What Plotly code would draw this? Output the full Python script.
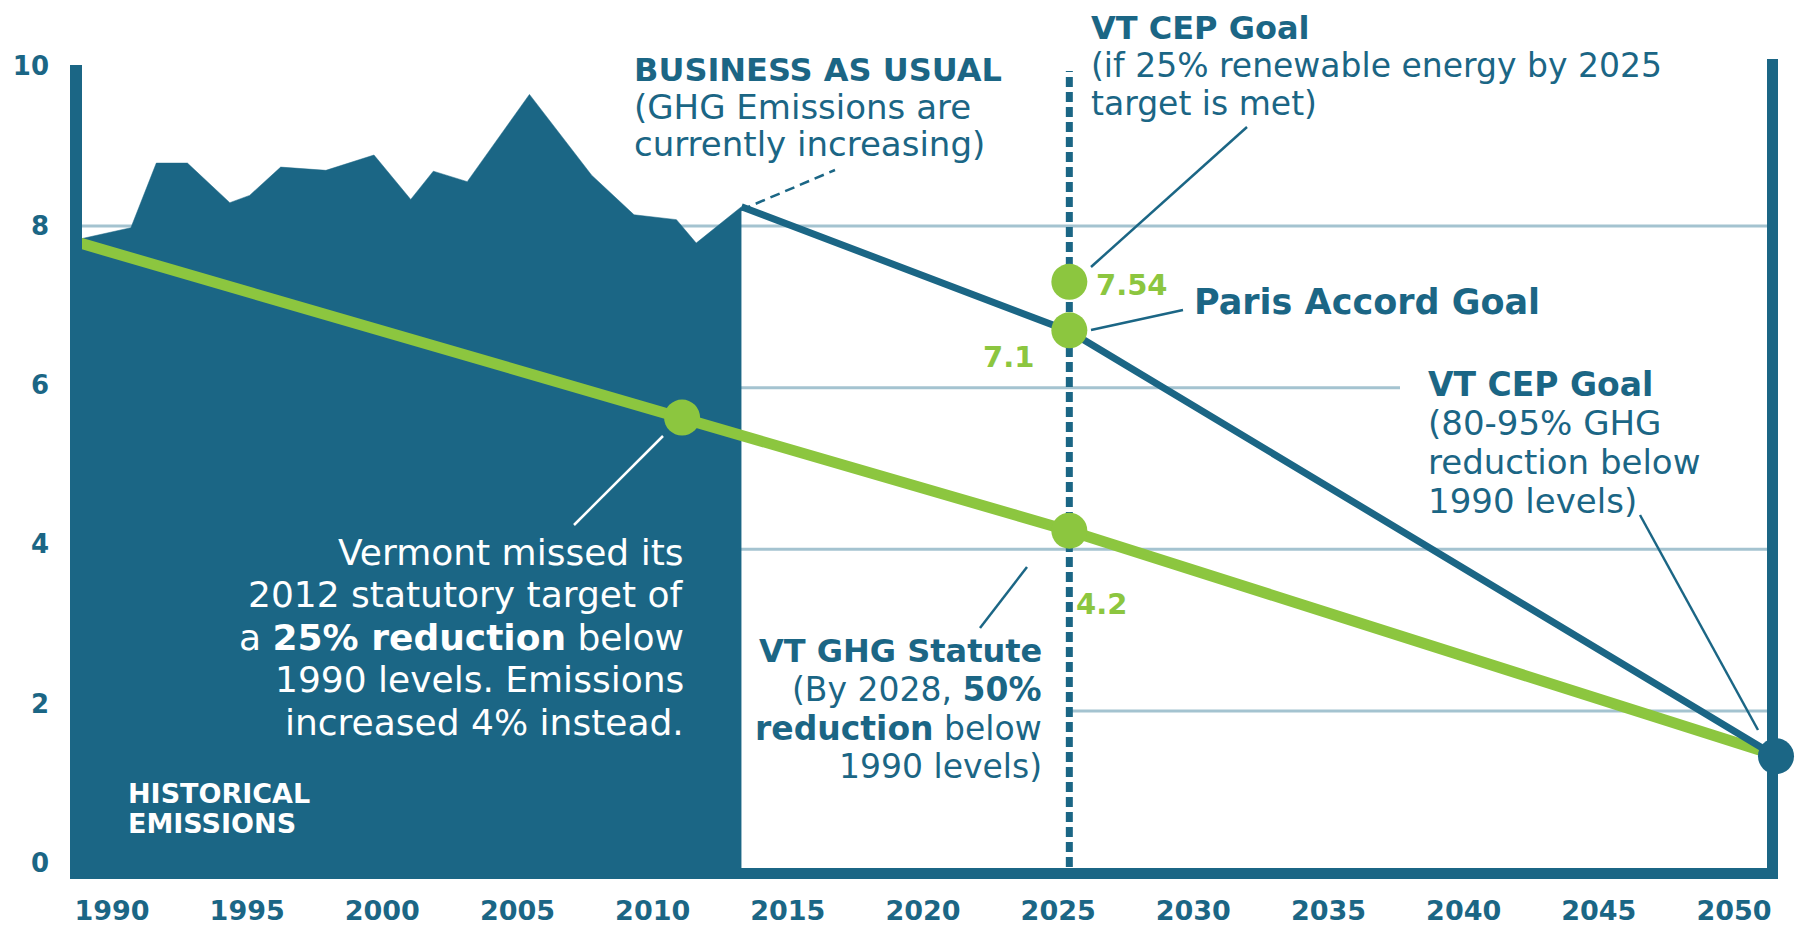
import plotly.graph_objects as go

# ---------------- data ----------------
hist_years = [1990.0, 1991.8, 1992.7, 1993.8, 1995.3, 1996.0, 1997.1, 1998.7, 2000.4,
              2001.7, 2002.5, 2003.7, 2005.9, 2008.1, 2009.6, 2011.1, 2011.8, 2013.4]
hist_vals = [7.84, 7.98, 8.78, 8.78, 8.29, 8.38, 8.73, 8.69, 8.88,
             8.33, 8.68, 8.55, 9.63, 8.63, 8.14, 8.08, 7.79, 8.24]

bau_years = [2013.4, 2025, 2050]
bau_vals = [8.24, 6.70, 1.44]

statute_years = [1990, 2011.3, 2025, 2050]
statute_vals = [7.79, 5.63, 4.23, 1.45]

goal_marker_years = [2011.3, 2025, 2025, 2025]
goal_marker_vals = [5.63, 4.23, 7.31, 6.71]

end_marker_years = [2050]
end_marker_vals = [1.44]

x_tick_vals = [1990, 1995, 2000, 2005, 2010, 2015, 2020, 2025, 2030, 2035, 2040, 2045, 2050]
x_tick_text = ["1990", "1995", "2000", "2005", "2010", "2015", "2020", "2025",
               "2030", "2035", "2040", "2045", "2050"]
y_tick_vals = [0, 2, 4, 6, 8, 10]
y_tick_text = ["0", "2", "4", "6", "8", "10"]
grid_vals = [2, 4, 6, 8]

# ---------------- styling / geometry (page pixels) ----------------
DARK = "#1b6685"
GREEN = "#8cc63f"
GRID = "#a4c3d0"
FONT = "DejaVu Sans"

PAGE = 8                      # default body margin of the html page
W, H = 1800, 917
X_LEFT, X_RIGHT, Y_TOP, Y_BOTTOM = 64, 1790, 55, 885   # plot area on the page
ML, MR = X_LEFT - PAGE, PAGE + W - X_RIGHT
MT, MB = Y_TOP - PAGE, PAGE + H - Y_BOTTOM

X1990_PX, PX_PER_YEAR = 80.0, (1776.0 - 80.0) / 60.0
Y0_PX, PX_PER_UNIT = 872.5, 80.8
# tick-label scales as drawn in the original graphic
LBL1990_PX, LBL_PX_PER_YEAR = 112.0, (1734.0 - 112.0) / 60.0
LBL0_PX, LBL_PX_PER_UNIT = 863.0, (863.0 - 66.0) / 10.0


def xd(px):
    return 1990 + (px - X1990_PX) / PX_PER_YEAR


def yd(py):
    return (Y0_PX - py) / PX_PER_UNIT


def xp(px):
    return (px - X_LEFT) / (X_RIGHT - X_LEFT)


def yp(py):
    return (Y_BOTTOM - py) / (Y_BOTTOM - Y_TOP)


fig = go.Figure()

fig.add_trace(go.Scatter(x=hist_years, y=hist_vals, mode="lines", fill="tozeroy",
                         fillcolor=DARK, line=dict(color=DARK, width=0.5),
                         hoverinfo="skip", showlegend=False))
fig.add_trace(go.Scatter(x=statute_years, y=statute_vals, mode="lines",
                         line=dict(color=GREEN, width=11), showlegend=False))
fig.add_trace(go.Scatter(x=bau_years, y=bau_vals, mode="lines",
                         line=dict(color=DARK, width=7), showlegend=False))
fig.add_trace(go.Scatter(x=goal_marker_years, y=goal_marker_vals, mode="markers",
                         marker=dict(color=GREEN, size=36, line=dict(width=0)),
                         cliponaxis=False, showlegend=False))
fig.add_trace(go.Scatter(x=end_marker_years, y=end_marker_vals, mode="markers",
                         marker=dict(color=DARK, size=36, line=dict(width=0)),
                         cliponaxis=False, showlegend=False))
# carrier for the tick-label axes (draws nothing)
fig.add_trace(go.Scatter(x=x_tick_vals, y=[None] * len(x_tick_vals), xaxis="x2", yaxis="y2",
                         mode="markers", hoverinfo="skip", showlegend=False))

shapes = []
grid_extent = {2: (2025, 2050), 4: (1990, 2050), 6: (1990, xd(1400)), 8: (1990, 2050)}
for g in grid_vals:
    x0, x1 = grid_extent[g]
    shapes.append(dict(type="line", xref="x", yref="y", x0=x0, x1=x1, y0=g, y1=g,
                       line=dict(color=GRID, width=3), layer="below"))
# dotted 2025 line
shapes.append(dict(type="line", xref="x", yref="y", x0=2025, x1=2025, y0=yd(867), y1=yd(71),
                   line=dict(color=DARK, width=7, dash="10px,5px"), layer="below"))


def seg(p0, p1, color=DARK, width=2.5, dash="solid"):
    shapes.append(dict(type="line", xref="paper", yref="paper", x0=xp(p0[0]), y0=yp(p0[1]),
                       x1=xp(p1[0]), y1=yp(p1[1]), line=dict(color=color, width=width, dash=dash),
                       layer="above"))


seg((741, 210), (835, 170), dash="10px,6px")
seg((1091, 267), (1247, 127))
seg((1091, 330), (1183, 310))
seg((1640, 515), (1758, 730))
seg((663, 436), (574, 525), color="white")
seg((1027, 567), (980, 628))


def rect(x0, x1, y0, y1):
    shapes.append(dict(type="rect", xref="paper", yref="paper", x0=xp(x0), x1=xp(x1),
                       y0=yp(y1), y1=yp(y0), fillcolor=DARK, line=dict(width=0), layer="above"))


rect(70, 82, 65, 879)      # left frame bar
rect(1767, 1778, 59, 879)  # right frame bar
rect(70, 1778, 868, 879)   # bottom frame bar

annotations = []


def block(lines, x_px, y0_px, dy, anchor, sizes, color):
    for i, t in enumerate(lines):
        size = sizes[i] if isinstance(sizes, (list, tuple)) else sizes
        annotations.append(dict(x=xp(x_px), y=yp(y0_px + i * dy), xref="paper", yref="paper",
                                text=t, showarrow=False, xanchor=anchor, yanchor="middle",
                                align=anchor, borderpad=0,
                                font=dict(family=FONT, size=size, color=color)))


block(["<b>BUSINESS AS USUAL</b>", "(GHG Emissions are", "currently increasing)"],
      633, 70, 37, "left", [32, 34, 34], DARK)
block(["<b>VT CEP Goal</b>", "(if 25% renewable energy by 2025", "target is met)"],
      1090, 28, 37.5, "left", [32, 33, 33], DARK)
block(["<b>7.54</b>"], 1095, 285, 0, "left", 29, GREEN)
block(["<b>Paris Accord Goal</b>"], 1193, 302, 0, "left", 35, DARK)
block(["<b>7.1</b>"], 1035, 357, 0, "right", 29, GREEN)
block(["<b>VT CEP Goal</b>", "(80-95% GHG", "reduction below", "1990 levels)"],
      1427, 384, 39, "left", [33, 34, 34, 34], DARK)
block(["Vermont missed its", "2012 statutory target of", "a <b>25% reduction</b> below",
       "1990 levels. Emissions", "increased 4% instead."],
      685, 552, 42.5, "right", 36, "white")
block(["<b>HISTORICAL</b>", "<b>EMISSIONS</b>"], 127, 793, 30, "left", 27, "white")
block(["<b>VT GHG Statute</b>", "(By 2028, <b>50%</b>", "<b>reduction</b> below", "1990 levels)"],
      1043, 651, 38.5, "right", [32, 33, 33, 33], DARK)
block(["<b>4.2</b>"], 1075, 604, 0, "left", 29, GREEN)

fig.update_layout(
    width=W, height=H, autosize=False,
    margin=dict(l=ML, r=MR, t=MT, b=MB),
    paper_bgcolor="white", plot_bgcolor="white",
    showlegend=False,
    shapes=shapes, annotations=annotations,
    xaxis=dict(range=[xd(X_LEFT), xd(X_RIGHT)], showticklabels=False,
               showgrid=False, zeroline=False, showline=False, ticks="",
               automargin=False, fixedrange=True),
    yaxis=dict(range=[yd(Y_BOTTOM), yd(Y_TOP)], showticklabels=False,
               showgrid=False, zeroline=False, showline=False, ticks="",
               automargin=False, fixedrange=True),
    xaxis2=dict(overlaying="x", anchor="y2", side="bottom",
                range=[1990 + (X_LEFT - LBL1990_PX) / LBL_PX_PER_YEAR,
                       1990 + (X_RIGHT - LBL1990_PX) / LBL_PX_PER_YEAR],
                tickvals=x_tick_vals, ticktext=x_tick_text,
                showgrid=False, zeroline=False, showline=False, ticks="",
                ticklabelstandoff=7, ticklabeloverflow="allow",
                automargin=False, fixedrange=True,
                tickfont=dict(family=FONT, size=27, color=DARK, weight="bold")),
    yaxis2=dict(overlaying="y", anchor="x2", side="left",
                range=[(LBL0_PX - Y_BOTTOM) / LBL_PX_PER_UNIT,
                       (LBL0_PX - Y_TOP) / LBL_PX_PER_UNIT],
                tickvals=y_tick_vals, ticktext=y_tick_text,
                showgrid=False, zeroline=False, showline=False, ticks="",
                ticklabelstandoff=14, ticklabeloverflow="allow",
                automargin=False, fixedrange=True,
                tickfont=dict(family=FONT, size=26, color=DARK, weight="bold")),
)

fig.write_html("out.html")
